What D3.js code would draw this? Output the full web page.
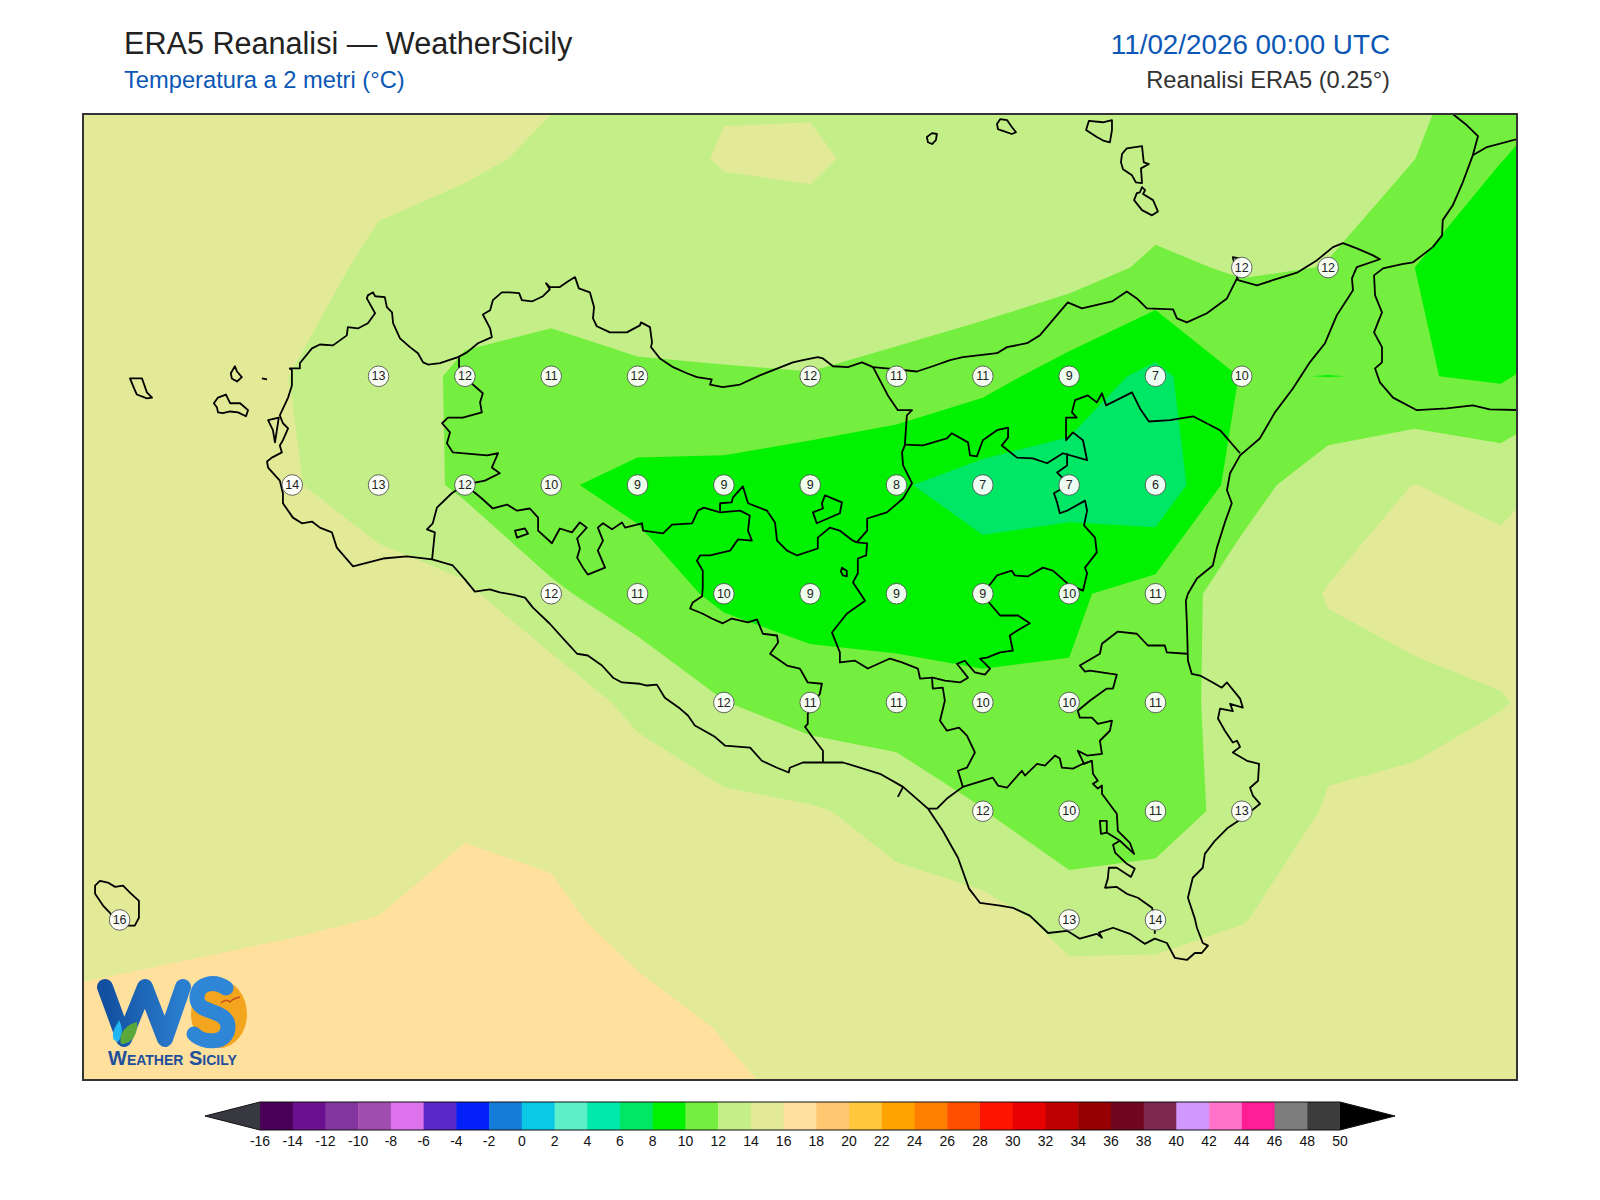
<!DOCTYPE html>
<html>
<head>
<meta charset="utf-8">
<title>ERA5 Reanalisi - WeatherSicily</title>
<script src="https://cdn.jsdelivr.net/npm/d3@7"></script>
<style>
  html, body { margin: 0; padding: 0; background: #fff; }
  text { font-family: "Liberation Sans", Arial, sans-serif; }
</style>
</head>
<body>
<svg id="chart" width="1600" height="1200"></svg>
<script>
//colour levels, degrees C
const levels = d3.range(-16, 50, 2);
const levelColors = ["#4a0059", "#6a1090", "#8436a0", "#a14db0", "#dd73ec", "#5a26c6", "#0320f8", "#147dd8", "#0ac9e6", "#5df0c8", "#00e8aa", "#00e665", "#00f200", "#75ef3f", "#c4ef88", "#e2ea97", "#ffe09d", "#ffc870", "#ffc83c", "#ffa300", "#ff8000", "#ff5000", "#ff1400", "#e60000", "#be0000", "#960000", "#70061f", "#7d2750", "#d296ff", "#ff73c8", "#ff1e96", "#7d7d7d", "#3c3c3c"];
const underColor = "#383840";
const overColor = "#000000";

//0.25 degree grid
const gridLons = d3.range(11.75, 16.26, 0.25);
const gridLats = d3.range(38.75, 36.24, -0.25);

//2m temperature, north to south
const t2m = [
  [15.5, 15.4, 15.3, 15.2, 15.1, 14.8, 14.29, 13.9, 13.65, 13.3, 13.4, 13.4, 13.4, 13.3, 13.2, 13, 12.4, 11.6, 10.1],
  [15.2, 15.1, 15, 14.9, 14.35, 14.2, 13.8, 13.2, 14.15, 14.35, 13.22, 13.3, 13.1, 13.4, 12.7, 12.5, 12.02, 10.05, 9],
  [15.2, 15.1, 14.9, 14.5, 13.74, 13.3, 13, 12.9, 12.9, 12.85, 13.5, 13.25, 12.9, 11.63, 12.21, 11.96, 10.005, 8.7, 8.8],
  [15, 14.9, 14.6, 13.97, 13.2, 11.59, 11.21, 11.8, 11.89, 11.96, 11.43, 10.7, 9.13, 7.45, 10.1, 9.975, 10.1, 9.75, 11.5],
  [15.1, 15, 14.7, 14.1, 13.3, 11.61, 10.3, 9.39, 9.29, 8.64, 8.2, 7.15, 7.11, 6.2, 11.2, 13.17, 14.03, 13.4, 14.8],
  [15.3, 15.2, 15, 14.9, 14.6, 14.35, 12.3, 11.1, 9.57, 9.1, 9, 9, 9.7, 10.83, 12.96, 14.08, 14.8, 15, 15],
  [15.3, 15.2, 15.2, 15.3, 15.4, 15.5, 15.4, 13.4, 12.05, 11.05, 10.82, 10.45, 10.21, 10.9, 12.98, 13.5, 13.4, 13.88, 15],
  [15.2, 15.2, 15.3, 15.4, 15.5, 15.7, 15.6, 15.6, 14.55, 14.2, 13.4, 12.05, 10.3, 11, 12.7, 14.15, 14.5, 15.4, 15.4],
  [15.6, 15.7, 15.8, 15.9, 16.02, 16.73, 16.3, 15.53, 15.2, 15, 14.68, 14.73, 13.45, 13.3, 13.95, 14.6, 15, 15.5, 15.6],
  [16.2, 16.3, 16.4, 16.5, 16.6, 17, 16.9, 16.53, 15.93, 15.3, 15, 14.9, 15.1, 15.5, 15, 15, 15.2, 15.6, 15.6],
  [16.6, 16.7, 16.9, 17, 17.1, 17.3, 17.2, 16.9, 16.5, 15.98, 15.2, 15.2, 15.3, 15.4, 15.4, 15.4, 15.4, 15.6, 15.6]
];

//values printed on the map: lon, lat, label
const pointLabels = [
  [15.25, 38.25, 12], [15.5, 38.25, 12],
  [12.75, 38, 13], [13, 38, 12], [13.25, 38, 11], [13.5, 38, 12], [14, 38, 12], [14.25, 38, 11], [14.5, 38, 11], [14.75, 38, 9], [15, 38, 7], [15.25, 38, 10],
  [12.5, 37.75, 14], [12.75, 37.75, 13], [13, 37.75, 12], [13.25, 37.75, 10], [13.5, 37.75, 9], [13.75, 37.75, 9], [14, 37.75, 9], [14.25, 37.75, 8], [14.5, 37.75, 7], [14.75, 37.75, 7], [15, 37.75, 6],
  [13.25, 37.5, 12], [13.5, 37.5, 11], [13.75, 37.5, 10], [14, 37.5, 9], [14.25, 37.5, 9], [14.5, 37.5, 9], [14.75, 37.5, 10], [15, 37.5, 11],
  [13.75, 37.25, 12], [14, 37.25, 11], [14.25, 37.25, 11], [14.5, 37.25, 10], [14.75, 37.25, 10], [15, 37.25, 11],
  [14.5, 37, 12], [14.75, 37, 10], [15, 37, 11], [15.25, 37, 13],
  [12, 36.75, 16], [14.75, 36.75, 13], [15, 36.75, 14]
];

//coastlines, lon/lat
const sicilyCoast = [[12.719,38.186],[12.734,38.193],[12.74,38.184],[12.768,38.182],[12.774,38.159],[12.789,38.147],[12.792,38.122],[12.812,38.087],[12.841,38.067],[12.864,38.053],[12.879,38.032],[12.893,38.027],[12.928,38.03],[12.98,38.044],[13.006,38.055],[13.038,38.076],[13.078,38.09],[13.073,38.11],[13.052,38.142],[13.073,38.152],[13.081,38.175],[13.107,38.193],[13.13,38.193],[13.157,38.191],[13.165,38.175],[13.194,38.172],[13.226,38.184],[13.246,38.2],[13.235,38.214],[13.246,38.205],[13.275,38.205],[13.298,38.218],[13.319,38.228],[13.33,38.202],[13.362,38.193],[13.374,38.159],[13.371,38.133],[13.382,38.115],[13.42,38.101],[13.469,38.101],[13.507,38.117],[13.51,38.124],[13.536,38.113],[13.542,38.078],[13.539,38.067],[13.565,38.041],[13.603,38.021],[13.643,38.007],[13.672,37.998],[13.715,37.993],[13.71,37.981],[13.747,37.975],[13.797,37.981],[13.854,38.002],[13.95,38.032],[13.979,38.037],[14.022,38.044],[14.037,38.041],[14.066,38.023],[14.109,38.021],[14.15,38.032],[14.182,38.021],[14.251,38.016],[14.309,38.011],[14.355,38.023],[14.405,38.037],[14.442,38.044],[14.541,38.053],[14.57,38.067],[14.628,38.076],[14.665,38.094],[14.746,38.17],[14.787,38.156],[14.874,38.172],[14.917,38.195],[14.946,38.179],[14.975,38.156],[15.051,38.154],[15.062,38.133],[15.091,38.124],[15.149,38.145],[15.207,38.179],[15.236,38.225],[15.242,38.271],[15.224,38.274],[15.239,38.221],[15.294,38.209],[15.34,38.221],[15.412,38.239],[15.468,38.267],[15.514,38.297],[15.543,38.306],[15.583,38.294],[15.63,38.278],[15.65,38.269],[15.583,38.251],[15.569,38.225],[15.572,38.198],[15.525,38.14],[15.491,38.076],[15.447,38.032],[15.398,37.972],[15.346,37.917],[15.302,37.857],[15.279,37.841],[15.245,37.818],[15.216,37.777],[15.207,37.738],[15.221,37.708],[15.201,37.664],[15.178,37.606],[15.166,37.565],[15.12,37.535],[15.094,37.5],[15.088,37.484],[15.091,37.431],[15.094,37.346],[15.105,37.316],[15.129,37.312],[15.166,37.296],[15.192,37.284],[15.207,37.296],[15.245,37.259],[15.253,37.238],[15.216,37.247],[15.224,37.23],[15.187,37.236],[15.181,37.213],[15.201,37.185],[15.224,37.158],[15.236,37.162],[15.245,37.148],[15.224,37.135],[15.265,37.116],[15.3,37.109],[15.297,37.07],[15.274,37.054],[15.282,37.036],[15.303,37.017],[15.25,36.983],[15.21,36.962],[15.172,36.932],[15.143,36.902],[15.137,36.87],[15.108,36.847],[15.094,36.801],[15.114,36.753],[15.12,36.732],[15.137,36.697],[15.152,36.691],[15.134,36.674],[15.114,36.674],[15.091,36.658],[15.056,36.663],[15.033,36.697],[14.998,36.707],[14.969,36.695],[14.926,36.718],[14.877,36.732],[14.836,36.721],[14.845,36.709],[14.83,36.718],[14.781,36.707],[14.744,36.725],[14.689,36.72],[14.636,36.76],[14.587,36.778],[14.55,36.783],[14.492,36.789],[14.46,36.822],[14.428,36.893],[14.384,36.955],[14.341,37.006],[14.269,37.056],[14.202,37.086],[14.144,37.1],[14.095,37.112],[14.037,37.112],[13.979,37.112],[13.941,37.1],[13.938,37.089],[13.904,37.1],[13.86,37.116],[13.826,37.146],[13.753,37.151],[13.724,37.171],[13.666,37.197],[13.646,37.22],[13.623,37.236],[13.579,37.261],[13.556,37.291],[13.527,37.289],[13.507,37.293],[13.455,37.296],[13.429,37.307],[13.397,37.335],[13.356,37.358],[13.325,37.362],[13.29,37.392],[13.246,37.431],[13.197,37.468],[13.174,37.491],[13.139,37.498],[13.101,37.503],[13.072,37.51],[13.029,37.505],[13,37.533],[12.965,37.565],[12.905,37.579],[12.832,37.586],[12.763,37.581],[12.676,37.563],[12.629,37.606],[12.615,37.641],[12.58,37.652],[12.557,37.666],[12.528,37.662],[12.502,37.675],[12.473,37.708],[12.473,37.731],[12.464,37.76],[12.43,37.79],[12.427,37.804],[12.441,37.813],[12.47,37.825],[12.464,37.841],[12.473,37.853],[12.488,37.88],[12.473,37.892],[12.464,37.91],[12.488,37.951],[12.499,37.979],[12.499,38.014],[12.493,38.018],[12.522,38.018],[12.522,38.03],[12.557,38.064],[12.58,38.073],[12.618,38.071],[12.658,38.094],[12.661,38.113],[12.69,38.11],[12.719,38.122],[12.74,38.145],[12.716,38.179]];
const islands = [
  [[11.929,36.829],[11.943,36.84],[11.966,36.836],[11.987,36.826],[12.01,36.829],[12.03,36.813],[12.056,36.794],[12.056,36.755],[12.044,36.737],[12.001,36.737],[11.972,36.766],[11.952,36.783],[11.929,36.81]],
  [[12.03,37.995],[12.065,37.995],[12.079,37.963],[12.094,37.951],[12.079,37.949],[12.05,37.958],[12.042,37.972]],
  [[12.334,38.023],[12.34,38.011],[12.354,37.998],[12.34,37.988],[12.325,37.995],[12.322,38.007]],
  [[12.273,37.938],[12.285,37.951],[12.308,37.958],[12.32,37.938],[12.349,37.938],[12.372,37.922],[12.366,37.908],[12.343,37.917],[12.32,37.919],[12.299,37.915],[12.285,37.917],[12.282,37.928]],
  [[12.43,37.899],[12.461,37.905],[12.45,37.848],[12.444,37.876]],
  [[14.338,38.55],[14.353,38.559],[14.367,38.557],[14.364,38.543],[14.353,38.534],[14.341,38.538]],
  [[14.541,38.58],[14.55,38.591],[14.57,38.589],[14.584,38.573],[14.596,38.561],[14.584,38.557],[14.558,38.564],[14.544,38.568]],
  [[14.807,38.587],[14.848,38.584],[14.874,38.589],[14.874,38.566],[14.868,38.538],[14.851,38.541],[14.83,38.55],[14.799,38.566]],
  [[14.917,38.524],[14.961,38.529],[14.966,38.492],[14.981,38.488],[14.958,38.478],[14.961,38.444],[14.943,38.446],[14.932,38.462],[14.906,38.476],[14.9,38.492],[14.903,38.511]],
  [[14.955,38.423],[14.961,38.435],[14.97,38.428],[14.964,38.419],[14.993,38.405],[15.007,38.379],[14.99,38.37],[14.961,38.382],[14.938,38.405],[14.946,38.421]],
  [[14.092,37.56],[14.106,37.553],[14.106,37.54],[14.095,37.542],[14.089,37.551]],
  [[14.043,37.726],[14.092,37.71],[14.086,37.685],[14.019,37.662],[14.008,37.687],[14.037,37.696],[14.034,37.708]],
  [[13.145,37.645],[13.174,37.65],[13.183,37.638],[13.151,37.629]]
];
const openLines = [
  //calabria
  [[15.838,38.623],[15.861,38.603],[15.902,38.577],[15.934,38.552],[15.919,38.508],[15.89,38.446],[15.861,38.393],[15.832,38.359],[15.83,38.324],[15.803,38.297],[15.746,38.262],[15.714,38.258],[15.659,38.248],[15.633,38.232],[15.636,38.186],[15.656,38.147],[15.633,38.101],[15.656,38.067],[15.656,38.032],[15.636,38.018],[15.65,37.986],[15.688,37.951],[15.757,37.922],[15.844,37.926],[15.919,37.933],[15.968,37.924],[16.07,37.922]],
  [[15.919,38.508],[15.96,38.527],[16.07,38.55]],
  [[12.412,37.995],[12.427,37.993]],
  [[14.269,37.056],[14.254,37.033]],
  //province borders
  [[12.983,38.044],[12.983,38.021],[13.023,37.981],[13.052,37.961],[13.044,37.94],[13.049,37.917],[12.994,37.905],[12.951,37.905],[12.934,37.892],[12.957,37.871],[12.948,37.846],[12.965,37.825],[13.064,37.818],[13.096,37.823],[13.078,37.79],[13.101,37.777],[13.058,37.76],[13,37.751],[12.962,37.731],[12.919,37.698],[12.907,37.662],[12.89,37.648],[12.913,37.641],[12.905,37.579]],
  [[13,37.751],[13.049,37.719],[13.081,37.696],[13.122,37.705],[13.151,37.691],[13.188,37.696],[13.212,37.675],[13.212,37.645],[13.252,37.616],[13.275,37.65],[13.31,37.641],[13.333,37.664],[13.353,37.652],[13.325,37.627],[13.333,37.604],[13.325,37.583],[13.342,37.56],[13.356,37.544],[13.406,37.56],[13.385,37.599],[13.4,37.622],[13.385,37.652],[13.4,37.662],[13.426,37.648],[13.455,37.664],[13.464,37.652],[13.513,37.662],[13.516,37.645],[13.574,37.639],[13.6,37.659],[13.658,37.662],[13.675,37.691],[13.692,37.698],[13.739,37.687],[13.797,37.691],[13.825,37.68],[13.82,37.645],[13.831,37.622],[13.791,37.625],[13.768,37.599],[13.71,37.588],[13.681,37.588],[13.672,37.576],[13.689,37.553],[13.689,37.514],[13.687,37.494],[13.66,37.48],[13.652,37.466],[13.689,37.454],[13.715,37.443],[13.747,37.432],[13.773,37.443],[13.82,37.434],[13.846,37.441],[13.863,37.408],[13.904,37.404],[13.907,37.388],[13.884,37.362],[13.933,37.335],[13.97,37.328],[13.993,37.296],[14.034,37.293],[14.028,37.27],[13.993,37.224],[13.993,37.201],[13.985,37.194],[14.008,37.169],[14.037,37.139],[14.037,37.112]],
  [[13.739,37.687],[13.739,37.708],[13.773,37.71],[13.776,37.721],[13.805,37.747],[13.82,37.708],[13.875,37.691],[13.898,37.664],[13.904,37.622],[13.933,37.599],[13.962,37.588],[14.022,37.604],[14.022,37.629],[14.057,37.652],[14.086,37.645],[14.124,37.622],[14.135,37.618],[14.165,37.616],[14.162,37.588],[14.138,37.581],[14.138,37.547],[14.124,37.526],[14.159,37.484],[14.106,37.454],[14.063,37.411],[14.086,37.365],[14.086,37.342],[14.13,37.346],[14.167,37.328],[14.231,37.351],[14.266,37.342],[14.312,37.328],[14.318,37.305],[14.355,37.307],[14.39,37.3],[14.434,37.296],[14.457,37.307],[14.425,37.339],[14.448,37.346],[14.477,37.319],[14.506,37.314],[14.521,37.328],[14.492,37.351],[14.512,37.353],[14.55,37.365],[14.587,37.369],[14.578,37.404],[14.599,37.415],[14.636,37.432],[14.602,37.45],[14.55,37.45],[14.521,37.477],[14.5,37.5],[14.541,37.542],[14.584,37.553],[14.593,37.542],[14.631,37.54],[14.674,37.56],[14.703,37.553],[14.749,37.521],[14.79,37.507],[14.802,37.547],[14.796,37.56],[14.83,37.595],[14.825,37.629],[14.793,37.657],[14.802,37.691],[14.796,37.714],[14.744,37.691],[14.723,37.685],[14.715,37.71],[14.706,37.731],[14.749,37.751],[14.715,37.779],[14.744,37.795],[14.744,37.823]],
  [[14.135,37.618],[14.165,37.645],[14.165,37.673],[14.222,37.687],[14.269,37.719],[14.295,37.754],[14.269,37.795],[14.266,37.825],[14.274,37.841],[14.28,37.91],[14.295,37.922],[14.254,37.922],[14.225,37.956],[14.182,38.021]],
  [[14.274,37.843],[14.327,37.841],[14.396,37.857],[14.41,37.869],[14.457,37.848],[14.463,37.818],[14.483,37.816],[14.5,37.853],[14.541,37.876],[14.573,37.882],[14.573,37.859],[14.555,37.841],[14.599,37.813],[14.645,37.811],[14.686,37.8],[14.732,37.823],[14.802,37.807],[14.79,37.853],[14.761,37.871],[14.741,37.853],[14.741,37.905],[14.772,37.905],[14.758,37.917],[14.767,37.945],[14.804,37.956],[14.83,37.94],[14.845,37.961],[14.857,37.933],[14.932,37.963],[14.955,37.926],[14.981,37.896],[15.042,37.899],[15.109,37.908],[15.187,37.876],[15.245,37.823]],
  [[14.353,37.305],[14.355,37.282],[14.384,37.284],[14.39,37.254],[14.376,37.208],[14.396,37.185],[14.431,37.192],[14.454,37.174],[14.477,37.135],[14.454,37.1],[14.428,37.093],[14.442,37.056],[14.396,37.029],[14.367,37.006],[14.341,37.006]],
  [[14.442,37.056],[14.529,37.077],[14.544,37.059],[14.57,37.054],[14.613,37.093],[14.622,37.082],[14.657,37.109],[14.68,37.105],[14.709,37.128],[14.723,37.121],[14.729,37.1],[14.761,37.098],[14.79,37.109],[14.816,37.116]],
  [[15.091,37.362],[15.033,37.365],[15.027,37.381],[14.978,37.381],[14.946,37.408],[14.891,37.413],[14.845,37.385],[14.839,37.362],[14.781,37.335],[14.796,37.321],[14.81,37.323],[14.888,37.314],[14.877,37.282],[14.859,37.282],[14.81,37.254],[14.775,37.231],[14.781,37.215],[14.816,37.215],[14.833,37.201],[14.874,37.208],[14.868,37.185],[14.839,37.162],[14.845,37.132],[14.802,37.128],[14.775,37.139],[14.793,37.109],[14.816,37.116],[14.819,37.086],[14.833,37.07],[14.819,37.063],[14.833,37.052],[14.845,37.059],[14.845,37.04],[14.888,36.994],[14.891,36.955],[14.926,36.927],[14.938,36.902],[14.897,36.932],[14.859,36.951],[14.859,36.978],[14.839,36.978],[14.842,36.948],[14.859,36.951]],
  [[14.897,36.932],[14.877,36.923],[14.883,36.905],[14.917,36.879],[14.94,36.868],[14.929,36.849],[14.888,36.87],[14.865,36.87],[14.862,36.845],[14.854,36.824],[14.888,36.826],[14.917,36.81],[14.949,36.801],[14.99,36.778],[14.998,36.748],[14.998,36.718]]
];

const svg = d3.select("#chart");

//map frame
const frame = { left: 83, right: 1517, top: 114, bottom: 1080 };
const xScale = d3.scaleLinear().domain([11.894, 16.047]).range([frame.left, frame.right]);
const yScale = d3.scaleLinear().domain([38.603, 36.382]).range([frame.top, frame.bottom]);

svg.append("clipPath").attr("id", "map-clip").append("rect")
  .attr("x", frame.left).attr("y", frame.top)
  .attr("width", frame.right - frame.left).attr("height", frame.bottom - frame.top);

const map = svg.append("g").attr("clip-path", "url(#map-clip)");

//filled contours
const contourPath = d3.geoPath(d3.geoTransform({
  point(cx, cy) {
    const lon = gridLons[0] + (cx - 0.5) * 0.25;
    const lat = gridLats[0] - (cy - 0.5) * 0.25;
    this.stream.point(xScale(lon), yScale(lat));
  }
}));
const contours = d3.contours().size([gridLons.length, gridLats.length]).thresholds(levels)(t2m.flat());

map.selectAll("path.band")
  .data(contours)
  .join("path")
  .attr("class", "band")
  .attr("d", contourPath)
  .attr("fill", (d) => levelColors[levels.indexOf(d.value)])
  .attr("stroke", "none");

//coast and borders
const line = d3.line().x((d) => xScale(d[0])).y((d) => yScale(d[1]));
const closedLine = d3.line().x((d) => xScale(d[0])).y((d) => yScale(d[1])).curve(d3.curveLinearClosed);

const drawLines = (data, gen) => map.append("g").selectAll("path")
  .data(data)
  .join("path")
  .attr("d", gen)
  .attr("fill", "none")
  .attr("stroke", "#000")
  .attr("stroke-width", 1.8)
  .attr("stroke-linejoin", "round");

drawLines(openLines, line);
drawLines([sicilyCoast, ...islands], closedLine);

//value labels
const labelGroups = map.append("g").selectAll("g")
  .data(pointLabels)
  .join("g")
  .attr("transform", (d) => `translate(${xScale(d[0])},${yScale(d[1])})`);

labelGroups.append("circle")
  .attr("r", 10.3)
  .attr("fill", "rgba(255,255,255,0.93)")
  .attr("stroke", "#555")
  .attr("stroke-width", 0.9);

labelGroups.append("text")
  .attr("text-anchor", "middle")
  .attr("y", 4.2)
  .attr("font-size", 12.5)
  .attr("fill", "#222")
  .text((d) => d[2]);

//logo
const logo = svg.append("g");
logo.append("ellipse").attr("cx", 219).attr("cy", 1014).attr("rx", 28).attr("ry", 34).attr("fill", "#f4a51e");
const logoGrad = svg.append("linearGradient").attr("id", "logo-blue").attr("x1", 0).attr("x2", 1).attr("y1", 0).attr("y2", 0);
logoGrad.append("stop").attr("offset", "0%").attr("stop-color", "#124f9f");
logoGrad.append("stop").attr("offset", "100%").attr("stop-color", "#2b7fd0");
logo.append("path")
  .attr("d", "M105,987 L124,1039 L145,987 L165,1039 L183,987")
  .attr("fill", "none").attr("stroke", "url(#logo-blue)").attr("stroke-width", 16)
  .attr("stroke-linecap", "round").attr("stroke-linejoin", "round");
logo.append("path")
  .attr("d", "M226,988 C214,980 197,983 197,998 C197,1015 228,1008 228,1027 C228,1044 204,1044 194,1034")
  .attr("fill", "none").attr("stroke", "#2f86d6").attr("stroke-width", 15)
  .attr("stroke-linecap", "round");
logo.append("path").attr("d", "M114,1040 C110,1032 118,1024 119,1020 C122,1026 124,1034 118,1042 Z").attr("fill", "#1fb6f2");
logo.append("path").attr("d", "M121,1044 C118,1032 128,1024 137,1022 C138,1034 132,1044 121,1044 Z").attr("fill", "#5aa83a");
logo.append("path").attr("d", "M221,1003 Q226,998 230,1002 Q234,998 240,997").attr("fill", "none").attr("stroke", "#c8501a").attr("stroke-width", 1.4);
logo.append("text")
  .attr("x", 108).attr("y", 1065)
  .attr("font-size", 20).attr("font-weight", "bold").attr("fill", "#1d4f9c")
  .style("font-variant", "small-caps")
  .text("Weather Sicily");

//frame
svg.append("rect")
  .attr("x", frame.left).attr("y", frame.top)
  .attr("width", frame.right - frame.left).attr("height", frame.bottom - frame.top)
  .attr("fill", "none").attr("stroke", "#333").attr("stroke-width", 2);

//titles
const titles = [
  { text: "ERA5 Reanalisi \u2014 WeatherSicily", x: 124, y: 54, size: 30.6, color: "#222", anchor: "start" },
  { text: "Temperatura a 2 metri (\u00b0C)", x: 124, y: 88, size: 23.7, color: "#0b57b5", anchor: "start" },
  { text: "11/02/2026 00:00 UTC", x: 1390, y: 54, size: 27.8, color: "#0b57b5", anchor: "end" },
  { text: "Reanalisi ERA5 (0.25\u00b0)", x: 1390, y: 88, size: 23.7, color: "#333", anchor: "end" }
];
svg.append("g").selectAll("text")
  .data(titles)
  .join("text")
  .attr("x", (d) => d.x).attr("y", (d) => d.y)
  .attr("font-size", (d) => d.size)
  .attr("fill", (d) => d.color)
  .attr("text-anchor", (d) => d.anchor)
  .text((d) => d.text);

//colorbar
const barTop = 1102, barBottom = 1130;
const barScale = d3.scaleLinear().domain([-16, 50]).range([260, 1340]);
const bar = svg.append("g");

bar.selectAll("rect")
  .data(levels)
  .join("rect")
  .attr("x", (d) => barScale(d))
  .attr("y", barTop)
  .attr("width", (d) => barScale(d + 2) - barScale(d) + 0.5)
  .attr("height", barBottom - barTop)
  .attr("fill", (d, i) => levelColors[i]);

const barMid = (barTop + barBottom) / 2;
bar.append("path")
  .attr("d", `M${barScale(-16)},${barTop} L205,${barMid} L${barScale(-16)},${barBottom} Z`)
  .attr("fill", underColor);
bar.append("path")
  .attr("d", `M${barScale(50)},${barTop} L1395,${barMid} L${barScale(50)},${barBottom} Z`)
  .attr("fill", overColor);
bar.append("path")
  .attr("d", `M${barScale(-16)},${barTop} L205,${barMid} L${barScale(-16)},${barBottom} L${barScale(50)},${barBottom} L1395,${barMid} L${barScale(50)},${barTop} Z`)
  .attr("fill", "none").attr("stroke", "#111").attr("stroke-width", 1);

const barAxis = d3.axisBottom(barScale)
  .tickValues(d3.range(-16, 51, 2))
  .tickFormat(String)
  .tickSize(0)
  .tickPadding(6);

bar.append("g")
  .attr("transform", `translate(-0.5,${barBottom})`)
  .call(barAxis)
  .call((g) => g.select(".domain").remove())
  .call((g) => g.selectAll("text").attr("font-size", 14).attr("font-family", '"Liberation Sans", Arial, sans-serif').attr("fill", "#111"));
</script>
</body>
</html>
